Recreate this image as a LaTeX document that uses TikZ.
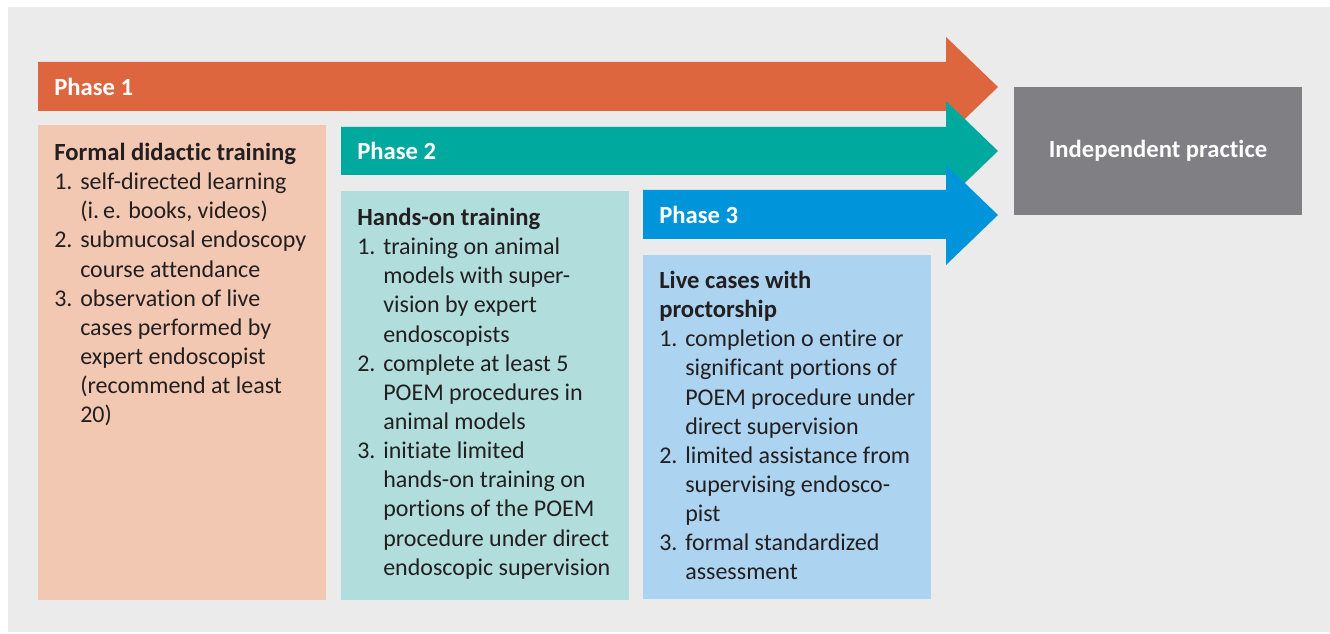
\documentclass[tikz,border=0pt]{standalone}
\usepackage{fontspec}
\setmainfont{Carlito}[Ligatures=NoCommon]
\usetikzlibrary{positioning}
\definecolor{bggrey}{HTML}{EAEBEA}
\definecolor{phaseone}{HTML}{DE663E}
\definecolor{boxone}{HTML}{F2C8B3}
\definecolor{phasetwo}{HTML}{00A99D}
\definecolor{boxtwo}{HTML}{B1DEDD}
\definecolor{phasethree}{HTML}{0095DA}
\definecolor{boxthree}{HTML}{ACD3F0}
\definecolor{practicegrey}{HTML}{808084}
\definecolor{listtext}{HTML}{231F20}
\newlength{\numw}
\setlength{\numw}{19.5pt}
\newcommand{\nr}[1]{\makebox[\numw][l]{#1}}
\newcommand{\cn}{\hspace*{\numw}}

\begin{document}
\begin{tikzpicture}[x=0.75pt, y=-0.75pt,
	phaselabel/.style={anchor=west, inner sep=0pt, text=white, font=\bfseries\fontsize{18.5}{22}\selectfont},
	itemlist/.style={anchor=north west, align=left, inner sep=0pt, text=listtext, font=\fontsize{18}{21.85}\selectfont}]
	\useasboundingbox (0,0) rectangle (1330,634);
	\fill[white] (0,0) rectangle (1330,634);
	\fill[bggrey] (8,7) rectangle (1330,632);
%
	\fill[boxone] (38,125) rectangle (326,600);
	\fill[boxtwo] (341,191) rectangle (629,600);
	\fill[boxthree] (643,255) rectangle (931,599);
	\node[fill=practicegrey, minimum width=216pt, minimum height=96pt, inner sep=0pt, text=white, font=\bfseries\fontsize{18.5}{22}\selectfont] (practice) at (1158,151) {Independent practice};
%
	\fill[phaseone] (38,62) -- (946,62) -- (946,37) -- (998,87) -- (946,137) -- (946,111) -- (38,111) -- cycle;
	\fill[phasetwo] (341,127) -- (946,127) -- (946,101) -- (998,151) -- (946,201) -- (946,175) -- (341,175) -- cycle;
	\fill[phasethree] (643,190) -- (946,190) -- (946,165) -- (998,215) -- (946,265) -- (946,239) -- (643,239) -- cycle;
	\node[phaselabel] (p1) at (54,87) {Phase 1};
	\node[phaselabel] (p2) at (357,151) {Phase 2};
	\node[phaselabel] (p3) at (659,215) {Phase 3};
%
	\node[itemlist] (didactic) at (54,143) {{\bfseries\fontsize{18.5}{21.85}\selectfont Formal didactic training}\\
		\nr{1.}self-directed learning\\ \cn(i.\,e. books, videos)\\
		\nr{2.}submucosal endoscopy\\ \cn course attendance\\
		\nr{3.}observation of live\\ \cn cases performed by\\ \cn expert endoscopist\\ \cn(recommend at least\\ \cn 20)};
	\node[itemlist] (handson) at (357,208) {{\bfseries\fontsize{18.5}{21.85}\selectfont Hands-on training}\\
		\nr{1.}training on animal\\ \cn models with super-\\ \cn vision by expert\\ \cn endoscopists\\
		\nr{2.}complete at least 5\\ \cn POEM procedures in\\ \cn animal models\\
		\nr{3.}initiate limited\\ \cn hands-on training on\\ \cn portions of the POEM\\ \cn procedure under direct\\ \cn endoscopic supervision};
	\node[itemlist] (livecases) at (659,271) {{\bfseries\fontsize{18.5}{21.85}\selectfont Live cases with}\\ {\bfseries\fontsize{18.5}{21.85}\selectfont proctorship}\\
		\nr{1.}completion o entire or\\ \cn significant portions of\\ \cn POEM procedure under\\ \cn direct supervision\\
		\nr{2.}limited assistance from\\ \cn supervising endosco-\\ \cn pist\\
		\nr{3.}formal standardized\\ \cn assessment};
\end{tikzpicture}
\end{document}
